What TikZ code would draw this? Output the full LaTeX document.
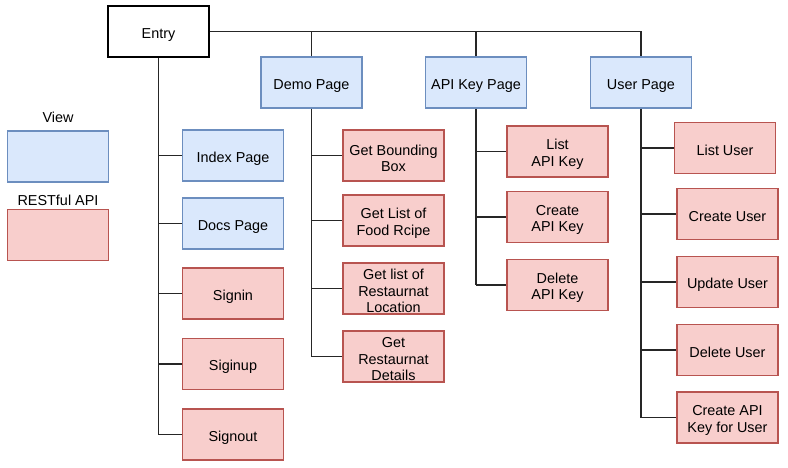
\documentclass[tikz,border=0pt]{standalone}
\usepackage{fontspec}
\setmainfont{Liberation Sans}
\definecolor{viewfill}{HTML}{DAE8FC}
\definecolor{viewdraw}{HTML}{6C8EBF}
\definecolor{apifill}{HTML}{F8CECC}
\definecolor{apidraw}{HTML}{B85450}
\newcommand{\tl}{\rule{0pt}{16pt}}
\tikzset{
  box/.style={draw, line width=1.3pt, minimum width=101pt, minimum height=51pt, inner sep=1pt, align=center, font=\fontsize{14.4}{16.5}\selectfont},
  plainbox/.style={box, draw=black, fill=white},
  viewbox/.style={box, draw=viewdraw, fill=viewfill},
  apibox/.style={box, draw=apidraw, fill=apifill},
  conn/.style={draw=black!85, line width=1.3pt},
  lbl/.style={font=\fontsize{14.4}{16.5}\selectfont, inner sep=0pt}
}
\begin{document}
\begin{tikzpicture}[x=1pt,y=-1pt]
\useasboundingbox (0,0) rectangle (788,467);
% legend
\node[lbl] (viewlbl) at (58,117) {View};
\node[viewbox] (viewleg) at (58,156.5) {};
\node[lbl] (restlbl) at (58,200) {RESTful API};
\node[apibox] (apileg) at (58,235) {};
% top level
\node[plainbox] (entry) at (158.5,31.5) {\tl Entry};
\node[viewbox] (demo) at (311.5,82.5) {\tl Demo Page};
\node[viewbox] (apikey) at (476,82.5) {\tl API Key Page};
\node[viewbox] (user) at (641,82.5) {\tl User Page};
% entry children
\node[viewbox] (index) at (233,155.5) {\tl Index Page};
\node[viewbox] (docs) at (233,223.5) {\tl Docs Page};
\node[apibox] (signin) at (233,293.5) {\tl Signin};
\node[apibox] (signup) at (233,364) {\tl Siginup};
\node[apibox] (signout) at (233,434.5) {\tl Signout};
% demo children
\node[apibox] (bbox) at (393.5,155.5) {\tl Get Bounding\\Box};
\node[apibox] (food) at (393.5,220.5) {\tl Get List of\\Food Rcipe};
\node[apibox] (loc) at (393.5,288.5) {\tl Get list of\\Restaurnat\\Location};
\node[apibox] (details) at (393.5,356.5) {\tl Get\\Restaurnat\\Details};
% api key children
\node[apibox] (listkey) at (557.5,151.5) {\tl List\\API Key};
\node[apibox] (createkey) at (557.5,217) {\tl Create\\API Key};
\node[apibox] (deletekey) at (557.5,285) {\tl Delete\\API Key};
% user children
\node[apibox] (listuser) at (725,148) {\tl List User};
\node[apibox] (createuser) at (727.5,214) {\tl Create User};
\node[apibox] (updateuser) at (727.5,282) {\tl Update User};
\node[apibox] (deleteuser) at (727.5,350) {\tl Delete User};
\node[apibox] (userkey) at (727.5,417.5) {\tl Create API\\Key for User};
% connectors: top bus
\draw[conn] (entry.east) -| (user.north);
\draw[conn] (demo.north) -- (demo.north |- entry.east);
\draw[conn] (apikey.north) -- (apikey.north |- entry.east);
% trunks
\draw[conn] (entry.south) -- (entry.south |- signout.west);
\draw[conn] (demo.south) -- (demo.south |- details.west);
\draw[conn] (apikey.south) -- (apikey.south |- deletekey.west);
\draw[conn] (user.south) -- (user.south |- userkey.west);
% stubs
\foreach \c in {index,docs,signin,signup,signout}
  \draw[conn] (entry.south |- \c.west) -- (\c.west);
\foreach \c in {bbox,food,loc,details}
  \draw[conn] (demo.south |- \c.west) -- (\c.west);
\foreach \c in {listkey,createkey,deletekey}
  \draw[conn] (apikey.south |- \c.west) -- (\c.west);
\foreach \c in {listuser,createuser,updateuser,deleteuser,userkey}
  \draw[conn] (user.south |- \c.west) -- (\c.west);
\end{tikzpicture}
\end{document}
